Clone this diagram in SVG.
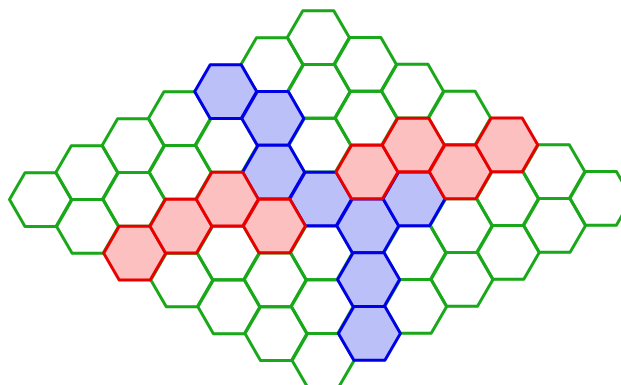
<svg xmlns="http://www.w3.org/2000/svg" xmlns:xlink="http://www.w3.org/1999/xlink" width="621" height="385" viewBox="0 0 621 385">
<style>
.e{fill:none;stroke:#19a819;stroke-width:3;stroke-linejoin:round}
.b{fill:#bcc0f8;stroke:#0000e6;stroke-width:3;stroke-linejoin:round}
.r{fill:#fcc0c0;stroke:#e80000;stroke-width:3;stroke-linejoin:round}
</style>
<defs>
<polygon id="hx" points="-31,0 -15.5,-26.85 15.5,-26.85 31,0 15.5,26.85 -15.5,26.85"/>
</defs>
<rect width="621" height="385" fill="#ffffff"/>
<g id="board">
<g id="h00" transform="translate(318.3,37.6)"><use xlink:href="#hx" href="#hx" class="e"/></g>
<g id="h01" transform="translate(365.4,64.4)"><use xlink:href="#hx" href="#hx" class="e"/></g>
<g id="h02" transform="translate(412.5,91.2)"><use xlink:href="#hx" href="#hx" class="e"/></g>
<g id="h03" transform="translate(459.6,118.0)"><use xlink:href="#hx" href="#hx" class="e"/></g>
<g id="h05" transform="translate(553.8,171.6)"><use xlink:href="#hx" href="#hx" class="e"/></g>
<g id="h06" transform="translate(600.9,198.4)"><use xlink:href="#hx" href="#hx" class="e"/></g>
<g id="h10" transform="translate(272.0,64.6)"><use xlink:href="#hx" href="#hx" class="e"/></g>
<g id="h11" transform="translate(319.1,91.4)"><use xlink:href="#hx" href="#hx" class="e"/></g>
<g id="h12" transform="translate(366.2,118.2)"><use xlink:href="#hx" href="#hx" class="e"/></g>
<g id="h15" transform="translate(507.5,198.6)"><use xlink:href="#hx" href="#hx" class="e"/></g>
<g id="h16" transform="translate(554.6,225.4)"><use xlink:href="#hx" href="#hx" class="e"/></g>
<g id="h22" transform="translate(319.9,145.2)"><use xlink:href="#hx" href="#hx" class="e"/></g>
<g id="h25" transform="translate(461.2,225.6)"><use xlink:href="#hx" href="#hx" class="e"/></g>
<g id="h26" transform="translate(508.3,252.4)"><use xlink:href="#hx" href="#hx" class="e"/></g>
<g id="h30" transform="translate(179.4,118.6)"><use xlink:href="#hx" href="#hx" class="e"/></g>
<g id="h31" transform="translate(226.5,145.4)"><use xlink:href="#hx" href="#hx" class="e"/></g>
<g id="h35" transform="translate(414.9,252.6)"><use xlink:href="#hx" href="#hx" class="e"/></g>
<g id="h36" transform="translate(462.0,279.4)"><use xlink:href="#hx" href="#hx" class="e"/></g>
<g id="h40" transform="translate(133.1,145.6)"><use xlink:href="#hx" href="#hx" class="e"/></g>
<g id="h41" transform="translate(180.2,172.4)"><use xlink:href="#hx" href="#hx" class="e"/></g>
<g id="h44" transform="translate(321.5,252.8)"><use xlink:href="#hx" href="#hx" class="e"/></g>
<g id="h46" transform="translate(415.7,306.4)"><use xlink:href="#hx" href="#hx" class="e"/></g>
<g id="h50" transform="translate(86.8,172.6)"><use xlink:href="#hx" href="#hx" class="e"/></g>
<g id="h51" transform="translate(133.9,199.4)"><use xlink:href="#hx" href="#hx" class="e"/></g>
<g id="h53" transform="translate(228.1,253.0)"><use xlink:href="#hx" href="#hx" class="e"/></g>
<g id="h54" transform="translate(275.2,279.8)"><use xlink:href="#hx" href="#hx" class="e"/></g>
<g id="h55" transform="translate(322.3,306.6)"><use xlink:href="#hx" href="#hx" class="e"/></g>
<g id="h60" transform="translate(40.5,199.6)"><use xlink:href="#hx" href="#hx" class="e"/></g>
<g id="h61" transform="translate(87.6,226.4)"><use xlink:href="#hx" href="#hx" class="e"/></g>
<g id="h63" transform="translate(181.8,280.0)"><use xlink:href="#hx" href="#hx" class="e"/></g>
<g id="h64" transform="translate(228.9,306.8)"><use xlink:href="#hx" href="#hx" class="e"/></g>
<g id="h65" transform="translate(276.0,333.6)"><use xlink:href="#hx" href="#hx" class="e"/></g>
<g id="h66" transform="translate(323.1,360.4)"><use xlink:href="#hx" href="#hx" class="e"/></g>
<g id="h20" transform="translate(225.7,91.6)"><use xlink:href="#hx" href="#hx" class="b"/></g>
<g id="h21" transform="translate(272.8,118.4)"><use xlink:href="#hx" href="#hx" class="b"/></g>
<g id="h32" transform="translate(273.6,172.2)"><use xlink:href="#hx" href="#hx" class="b"/></g>
<g id="h33" transform="translate(320.7,199.0)"><use xlink:href="#hx" href="#hx" class="b"/></g>
<g id="h34" transform="translate(367.8,225.8)"><use xlink:href="#hx" href="#hx" class="b"/></g>
<g id="h24" transform="translate(414.1,198.8)"><use xlink:href="#hx" href="#hx" class="b"/></g>
<g id="h45" transform="translate(368.6,279.6)"><use xlink:href="#hx" href="#hx" class="b"/></g>
<g id="h56" transform="translate(369.4,333.4)"><use xlink:href="#hx" href="#hx" class="b"/></g>
<g id="h62" transform="translate(134.7,253.2)"><use xlink:href="#hx" href="#hx" class="r"/></g>
<g id="h52" transform="translate(181.0,226.2)"><use xlink:href="#hx" href="#hx" class="r"/></g>
<g id="h42" transform="translate(227.3,199.2)"><use xlink:href="#hx" href="#hx" class="r"/></g>
<g id="h43" transform="translate(274.4,226.0)"><use xlink:href="#hx" href="#hx" class="r"/></g>
<g id="h23" transform="translate(367.0,172.0)"><use xlink:href="#hx" href="#hx" class="r"/></g>
<g id="h13" transform="translate(413.3,145.0)"><use xlink:href="#hx" href="#hx" class="r"/></g>
<g id="h14" transform="translate(460.4,171.8)"><use xlink:href="#hx" href="#hx" class="r"/></g>
<g id="h04" transform="translate(506.7,144.8)"><use xlink:href="#hx" href="#hx" class="r"/></g>
</g>
<g id="connectors"></g>
</svg>
